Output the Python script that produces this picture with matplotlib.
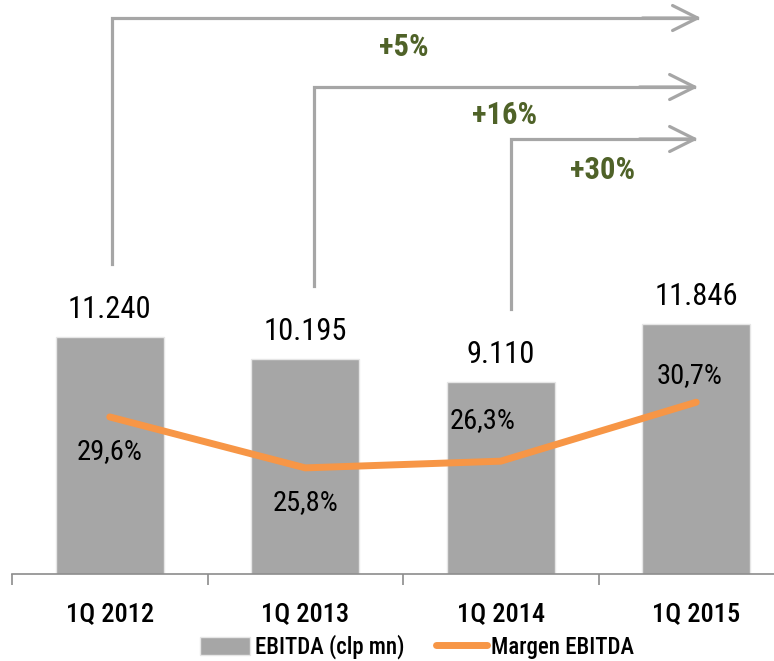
import matplotlib
matplotlib.use("Agg")
import matplotlib.pyplot as plt
import numpy as np

plt.rcParams["font.family"] = ["Roboto Condensed", "DejaVu Sans"]

# data
quarters = ["1Q 2012", "1Q 2013", "1Q 2014", "1Q 2015"]
ebitda = [11240, 10195, 9110, 11846]
margin = [29.6, 25.8, 26.3, 30.7]
growth_labels = ["+5%", "+16%", "+30%"]

BAR_GREY = "#A6A6A6"
ARROW_GREY = "#A6A6A6"
ORANGE = "#F79646"
GREEN = "#4F6228"


def fmt_thousands(v):
    return f"{v:,}".replace(",", ".")


def fmt_pct(v):
    return f"{v:.1f}%".replace(".", ",")


fig = plt.figure(figsize=(7.74, 6.61), dpi=100)
ax = fig.add_axes([12 / 774, 87 / 661, 782 / 774, 564 / 661])
ax2 = ax.twinx()

x = np.arange(len(quarters))
ax.bar(x, ebitda, width=0.55, color=BAR_GREY, edgecolor="#E6E6E6", linewidth=1.0,
       label="EBITDA (clp mn)", zorder=2)
ax.set_xlim(-0.5, 3.5)
ax.set_ylim(0, 26743)

for xi, v in zip(x, ebitda):
    ax.annotate(fmt_thousands(v), (xi, v), xytext=(0, 20), textcoords="offset points",
                ha="center", va="center", fontsize=22, color="black")

# margin line on secondary axis
ax2.plot(x, margin, color=ORANGE, lw=5, solid_capstyle="round", label="Margen EBITDA", zorder=3)
ax2.set_ylim(17.88, 59.97)
pct_offsets = [(0, -25), (0, -25), (-13, 29), (-5, 19)]
for xi, v, off in zip(x, margin, pct_offsets):
    ax2.annotate(fmt_pct(v), (xi, v), xytext=off, textcoords="offset points",
                 ha="center", va="center", fontsize=20.5, color="black")

# growth arrows from each earlier quarter to the last
arrow_levels = [26363, 23091, 20626]
arrow_shift = [0.01, 0.045, 0.05]
label_pos = [(1.506, 24988), (2.018, 21764), (2.519, 19156)]
end_x = [3.025, 3.01, 3.01]
for i, (lvl, txt, pos) in enumerate(zip(arrow_levels, growth_labels, label_pos)):
    start_y = ebitda[i] + 3450
    xs = i + arrow_shift[i]
    ax.plot([xs, xs, end_x[i] - 0.02], [start_y, lvl, lvl], color=ARROW_GREY, lw=2.3,
            solid_joinstyle="miter", clip_on=False, zorder=1)
    ax.annotate("", xy=(end_x[i], lvl), xytext=(end_x[i] - 0.3, lvl),
                arrowprops=dict(arrowstyle="->,head_length=0.9,head_width=0.45",
                                color=ARROW_GREY, lw=2.3, mutation_scale=20,
                                shrinkA=0, shrinkB=0),
                annotation_clip=False)
    ax.text(pos[0], pos[1], txt, ha="center", va="center", fontsize=22,
            fontweight="bold", color=GREEN)

# axes styling: only the category axis, ticks between categories
for a in (ax, ax2):
    for s in ("top", "right", "left"):
        a.spines[s].set_visible(False)
    a.set_yticks([])
ax2.spines["bottom"].set_visible(False)
ax.spines["bottom"].set_color("#8C8C8C")
ax.spines["bottom"].set_linewidth(1.2)
ax.set_xticks(x)
ax.set_xticklabels(quarters, fontsize=19, fontweight="medium")
ax.tick_params(axis="x", which="major", length=0, pad=20)
ax.set_xticks(np.arange(-0.5, 4.0, 1.0), minor=True)
ax.tick_params(axis="x", which="minor", length=8, width=1.2, color="#8C8C8C")

h1, l1 = ax.get_legend_handles_labels()
h2, l2 = ax2.get_legend_handles_labels()
fig.legend(h1 + h2, l1 + l2, loc="center", bbox_to_anchor=(417 / 774, 1 - 647 / 661),
           ncol=2, frameon=False, handlelength=2.2, handleheight=0.85,
           columnspacing=1.4, handletextpad=0.2,
           prop={"size": 16.5, "weight": "medium"})

fig.savefig("out.png", dpi=100)
